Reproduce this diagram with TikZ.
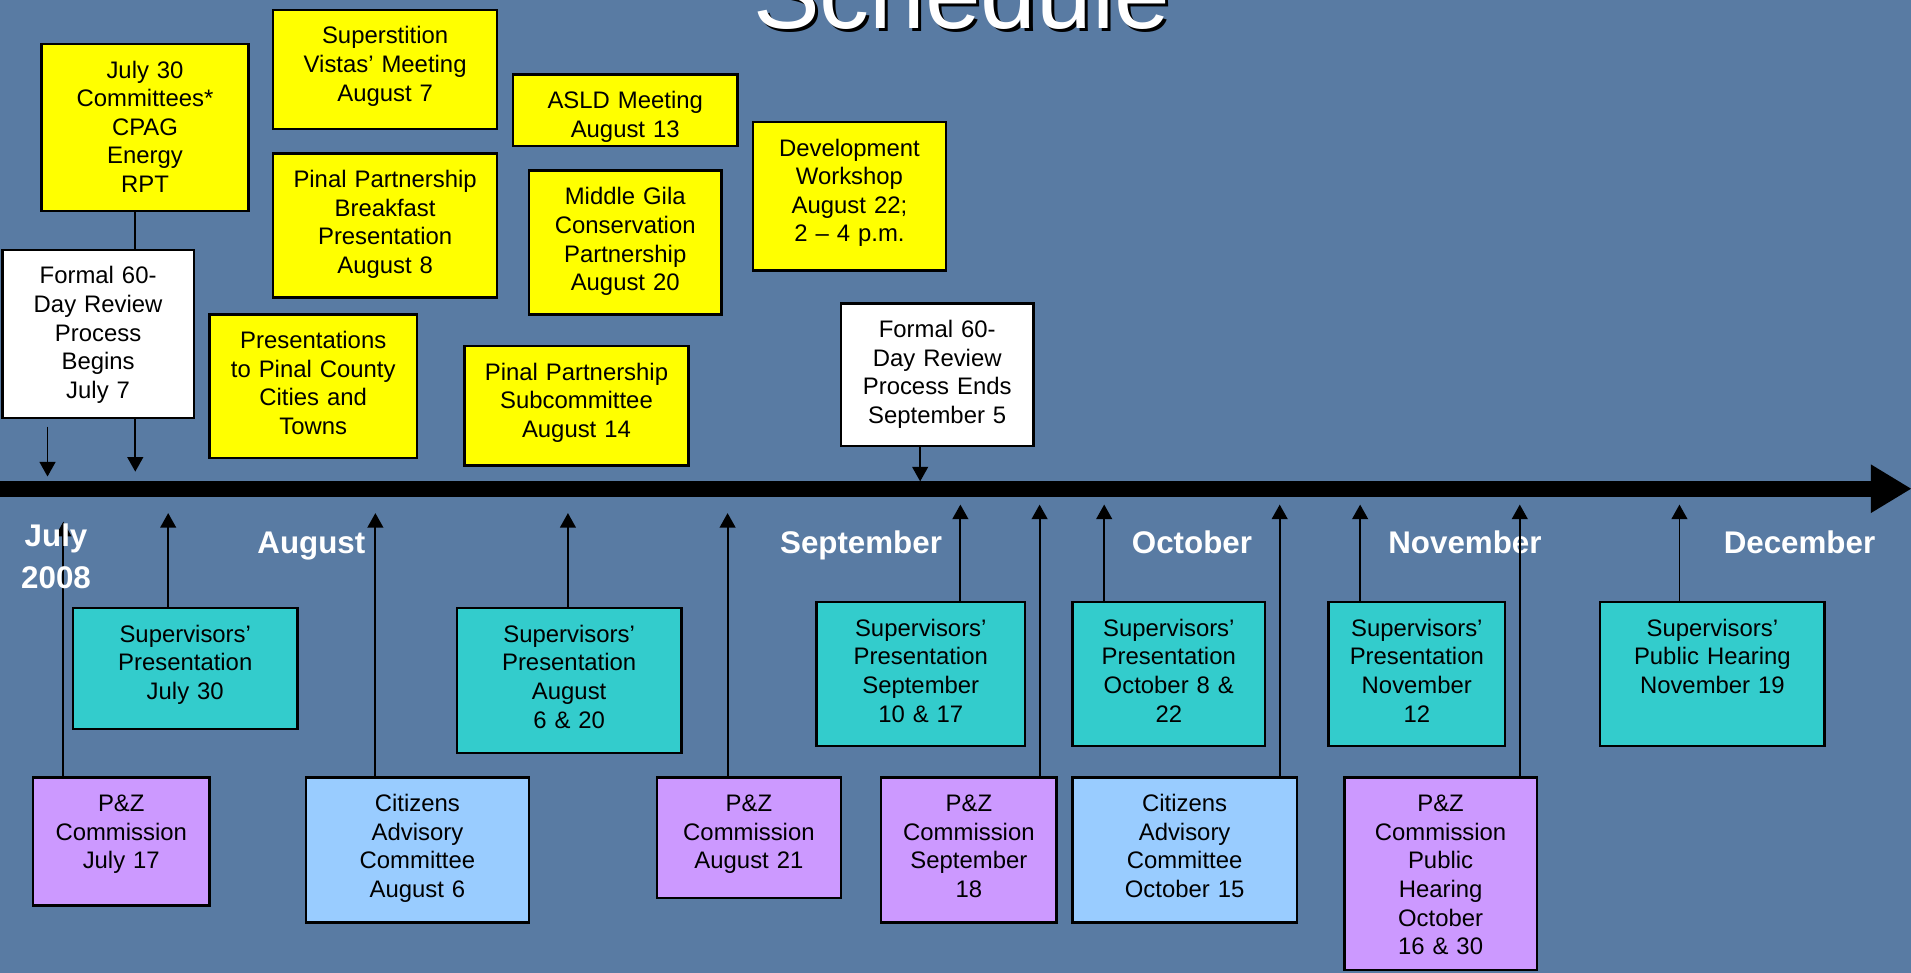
\documentclass[tikz,border=0pt]{standalone}
\usepackage{fontspec}
\setmainfont{Liberation Sans}
\usepackage{xcolor}
\usepackage{tikz}
\usetikzlibrary{arrows.meta}
\definecolor{bgblue}{RGB}{89,123,163}
\definecolor{evyellow}{RGB}{255,255,0}
\definecolor{evteal}{RGB}{51,204,204}
\definecolor{evpurple}{RGB}{204,153,255}
\definecolor{evsky}{RGB}{153,204,255}
\tikzset{evt/.style={draw=black,line width=2pt,anchor=north west,align=center,inner xsep=3pt,inner ysep=10pt,text height=18pt,font=\fontsize{19.6}{23.5}\selectfont}}
\tikzset{yel/.style={evt,fill=evyellow}}
\tikzset{wht/.style={evt,fill=white}}
\tikzset{sup/.style={evt,fill=evteal}}
\tikzset{pz/.style={evt,fill=evpurple}}
\tikzset{cac/.style={evt,fill=evsky}}
\tikzset{mon/.style={text=white,anchor=base,inner sep=0pt,font=\fontsize{25.7}{34.6}\selectfont\bfseries}}
\tikzset{ttl/.style={text=white,anchor=base,inner sep=0pt,font=\fontsize{82}{90}\selectfont}}

\begin{document}
\begin{tikzpicture}[x=1pt,y=-1pt,>={Triangle[length=12pt,width=13pt]}]
        \useasboundingbox (0,0) rectangle (1568,798);
        \clip (0,0) rectangle (1568,798);
        \fill[bgblue] (0,0) rectangle (1568,798);

        \node[ttl,text=black] (ttlsh) at (791.5,25.8) {Schedule};
        \node[ttl] (ttl) at (789,23.3) {Schedule};

        % events above the line
        \node[yel,text width=164pt,text depth=99pt] (c30) at (33,35) {July 30\\Committees*\\CPAG\\Energy\\RPT};
        \node[yel,text width=178pt,text depth=60pt] (sv7) at (223,7) {Superstition\\Vistas’ Meeting\\August 7};
        \node[yel,text width=178pt,text depth=80pt] (pp8) at (223,125) {Pinal Partnership\\Breakfast\\Presentation\\August 8};
        \node[yel,text width=164pt,text depth=80pt] (pcc) at (171,257) {Presentations\\to Pinal County\\Cities and\\Towns};
        \node[yel,text width=178pt,text depth=21pt] (asld) at (420,60) {ASLD Meeting\\August 13};
        \node[yel,text width=152pt,text depth=80pt] (mg20) at (433,139) {Middle Gila\\Conservation\\Partnership\\August 20};
        \node[yel,text width=178pt,text depth=60pt] (pp14) at (380,283) {Pinal Partnership\\Subcommittee\\August 14};
        \node[yel,text width=152pt,text depth=84pt] (dev22) at (617,99) {Development\\Workshop\\August 22;\\2 – 4 p.m.};
        \node[wht,text width=151pt,text depth=100pt] (fbeg) at (1,204) {Formal 60-\\Day Review\\Process\\Begins\\July 7};
        \node[wht,text width=152pt,text depth=79pt] (fend) at (689,248) {Formal 60-\\Day Review\\Process Ends\\September 5};

        % events below the line
        \node[sup,text width=178pt,text depth=61pt] (sp1) at (59,498) {Supervisors’\\Presentation\\July 30};
        \node[sup,text width=178pt,text depth=81pt] (sp2) at (374,498) {Supervisors’\\Presentation\\August\\6 \& 20};
        \node[sup,text width=165pt,text depth=80pt] (sp3) at (669,493) {Supervisors’\\Presentation\\September\\10 \& 17};
        \node[sup,text width=152pt,text depth=80pt] (sp4) at (879,493) {Supervisors’\\Presentation\\October 8 \&\\22};
        \node[sup,text width=139pt,text depth=80pt] (sp5) at (1089,493) {Supervisors’\\Presentation\\November\\12};
        \node[sup,text width=178pt,text depth=80pt] (sp6) at (1312,493) {Supervisors’\\Public Hearing\\November 19};
        \node[pz,text width=139pt,text depth=67pt] (pz1) at (26,637) {P\&Z\\Commission\\July 17};
        \node[cac,text width=177pt,text depth=81pt] (ca1) at (250,637) {Citizens\\Advisory\\Committee\\August 6};
        \node[pz,text width=145pt,text depth=61pt] (pz2) at (538,637) {P\&Z\\Commission\\August 21};
        \node[pz,text width=138pt,text depth=81pt] (pz3) at (722,637) {P\&Z\\Commission\\September\\18};
        \node[cac,text width=178pt,text depth=81pt] (ca2) at (879,637) {Citizens\\Advisory\\Committee\\October 15};
        \node[pz,text width=152pt,text depth=120pt] (pz4) at (1102,637) {P\&Z\\Commission\\Public\\Hearing\\October\\16 \& 30};

        % time line
        \coordinate (tl0) at (0,401);
        \coordinate (tlh) at (1537,401);
        \coordinate (tl1) at (1568,401);
        \draw[line width=12.8pt] (tl0) -- (tlh);
        \fill[black] (tl1) -- ([xshift=-33pt,yshift=20pt]tl1) -- ([xshift=-33pt,yshift=-20pt]tl1) -- cycle;

        \node[mon] (aug) at (255.5,454) {August};
        \node[mon] (sep) at (706.5,454) {September};
        \node[mon] (oct) at (978,454) {October};
        \node[mon] (nov) at (1202,454) {November};
        \node[mon] (dec) at (1476.5,454) {December};

        \coordinate (d1) at (39,391);
        \coordinate (d2) at (111,387);
        \coordinate (d3) at (755,395);
        \coordinate (u1) at (52,428);
        \coordinate (u2) at (138,421);
        \coordinate (u3) at (308,421);
        \coordinate (u4) at (466,421);
        \coordinate (u5) at (597,421);
        \coordinate (u6) at (788,414);
        \coordinate (u7) at (853,414);
        \coordinate (u8) at (906,414);
        \coordinate (u9) at (1050,414);
        \coordinate (u10) at (1116,414);
        \coordinate (u11) at (1247,414);
        \coordinate (u12) at (1378,414);

        \draw [line width=1.5pt] (c30.south -| d2) -- (fbeg.north -| d2);
        \draw [->,line width=1.5pt] ([yshift=-6pt]fbeg.south -| d1) -- (d1);
        \draw [->,line width=1.5pt] (fbeg.south -| d2) -- (d2);
        \draw [->,line width=1.5pt] (fend.south -| d3) -- (d3);
        \draw [->,line width=1.5pt] (pz1.north -| u1) -- (u1);
        \draw [->,line width=1.5pt] (sp1.north -| u2) -- (u2);
        \draw [->,line width=1.5pt] (ca1.north -| u3) -- (u3);
        \draw [->,line width=1.5pt] (sp2.north -| u4) -- (u4);
        \draw [->,line width=1.5pt] (pz2.north -| u5) -- (u5);
        \draw [->,line width=1.5pt] (sp3.north -| u6) -- (u6);
        \draw [->,line width=1.5pt] (pz3.north -| u7) -- (u7);
        \draw [->,line width=1.5pt] (sp4.north -| u8) -- (u8);
        \draw [->,line width=1.5pt] (ca2.north -| u9) -- (u9);
        \draw [->,line width=1.5pt] (sp5.north -| u10) -- (u10);
        \draw [->,line width=1.5pt] (pz4.north -| u11) -- (u11);
        \draw [->,line width=1.5pt] (sp6.north -| u12) -- (u12);

        \node[mon,text width=80pt,align=center] (jul) at (46,448) {July\\2008};
\end{tikzpicture}
\end{document}
